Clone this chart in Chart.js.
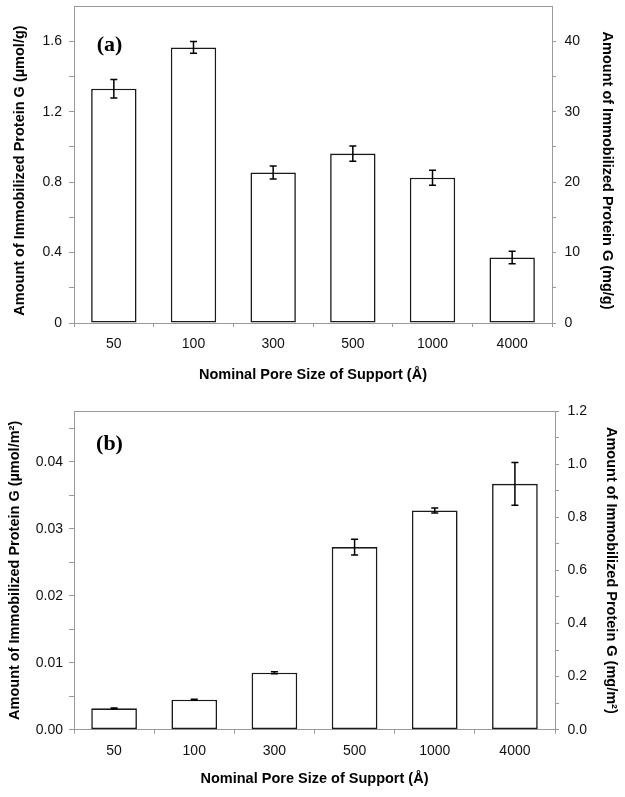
<!DOCTYPE html>
<html><head><meta charset="utf-8">
<script src="https://cdn.jsdelivr.net/npm/chart.js@4"></script>
<style>
html,body{margin:0;padding:0;background:#fff;width:625px;height:797px;overflow:hidden;}
canvas{display:block;position:absolute;left:0;}
</style>
</head><body>
<canvas id="ca" width="625" height="390" style="top:0px"></canvas>
<canvas id="cb" width="625" height="407" style="top:390px"></canvas>
<script>
// ---- data ----
const poreSizes = ['50', '100', '300', '500', '1000', '4000'];
// (a) amount of immobilized protein G, µmol/g, with error
const amountA = [1.33, 1.565, 0.855, 0.962, 0.825, 0.372];
const errorA  = [0.052, 0.034, 0.037, 0.043, 0.043, 0.035];
// (b) amount of immobilized protein G, µmol/m², with error
const amountB = [0.00319, 0.00448, 0.00851, 0.02727, 0.03275, 0.03672];
const errorB  = [0.00005, 0.00008, 0.00015, 0.00117, 0.00037, 0.00318];
// axis tick label steps
const ticksA_left  = {max: 1.8, step: 0.2, labelEvery: 2, decimals: 1, zero: '0'};
const ticksA_right = {max: 45, step: 5, labelEvery: 2, decimals: 0, zero: '0'};
const ticksB_left  = {max: 0.0476, step: 0.005, labelEvery: 2, decimals: 2, zero: '0.00'};
const ticksB_right = {max: 1.2, step: 0.1, labelEvery: 2, decimals: 1, zero: '0.0'};

const axisGrey = '#9a9a9a';
const tickFont = {family: "'Liberation Sans', Arial, sans-serif", size: 14};
const titleFont = {family: "'Liberation Sans', Arial, sans-serif", size: 14.5, weight: 'bold'};
const textColor = '#111';

const errorBarsPlugin = {
  id: 'errorBars',
  afterDatasetsDraw(chart, args, opts) {
    const meta = chart.getDatasetMeta(0);
    const yScale = chart.scales.y;
    const vals = chart.data.datasets[0].data;
    const ctx = chart.ctx;
    ctx.save();
    ctx.strokeStyle = '#000';
    ctx.lineWidth = 1.5;
    meta.data.forEach((bar, i) => {
      const e = opts.errors[i];
      const x = bar.x;
      const yt = yScale.getPixelForValue(vals[i] + e);
      const yb = yScale.getPixelForValue(vals[i] - e);
      ctx.beginPath();
      ctx.moveTo(x, yt); ctx.lineTo(x, yb);
      ctx.moveTo(x - 3.5, yt); ctx.lineTo(x + 3.5, yt);
      ctx.moveTo(x - 3.5, yb); ctx.lineTo(x + 3.5, yb);
      ctx.stroke();
    });
    ctx.restore();
  }
};

const frameTopPlugin = {
  id: 'frameTop',
  beforeDatasetsDraw(chart) {
    const {ctx, chartArea} = chart;
    ctx.save();
    ctx.strokeStyle = axisGrey;
    ctx.lineWidth = 1;
    ctx.beginPath();
    ctx.moveTo(chartArea.left, chartArea.top + 0.5);
    ctx.lineTo(chartArea.right, chartArea.top + 0.5);
    ctx.stroke();
    ctx.restore();
  }
};

const panelLabelPlugin = {
  id: 'panelLabel',
  afterDraw(chart, args, opts) {
    const {ctx, chartArea} = chart;
    ctx.save();
    ctx.font = "bold 22px 'Liberation Serif', 'Times New Roman', serif";
    ctx.fillStyle = '#000';
    ctx.textAlign = 'center';
    ctx.textBaseline = 'middle';
    ctx.fillText(opts.text, chartArea.left + opts.dx, chartArea.top + opts.dy);
    ctx.restore();
  }
};

function valueAxis(spec, position, width, tickLen, tickPad, title, titlePad) {
  return {
    position: position,
    min: 0,
    max: spec.max,
    ticks: {
      stepSize: spec.step,
      includeBounds: false,
      padding: tickPad,
      font: tickFont,
      color: textColor,
      callback: (v) => {
        const k = Math.round(v / spec.step);
        if (k % spec.labelEvery !== 0) return '';
        if (k === 0) return spec.zero;
        return (k * spec.step).toFixed(spec.decimals);
      }
    },
    grid: {display: true, drawOnChartArea: false, drawTicks: true, tickLength: tickLen, color: axisGrey, lineWidth: 1},
    border: {display: true, color: axisGrey, width: 1},
    title: {display: true, text: title, font: titleFont, color: '#000', padding: {top: titlePad, bottom: 0}},
    afterFit: (s) => { s.width = width; s.paddingTop = 0; s.paddingBottom = 0; }
  };
}

function categoryAxis(height, titlePad) {
  return {
    offset: true,
    grid: {display: true, drawOnChartArea: false, drawTicks: true, tickLength: 4, color: axisGrey, lineWidth: 1, offset: true},
    border: {display: true, color: axisGrey, width: 1},
    ticks: {font: tickFont, color: textColor, padding: 9, maxRotation: 0},
    title: {display: true, text: 'Nominal Pore Size of Support (Å)', font: titleFont, color: '#000', padding: {top: 0, bottom: titlePad}},
    afterFit: (s) => { s.height = height; s.paddingLeft = 0; s.paddingRight = 0; }
  };
}

function makeChart(id, values, errors, label, topPad, xHeight, xTitlePad,
                   leftSpec, leftWidth, leftTitle, leftTitlePad, leftTickPad,
                   rightSpec, rightWidth, rightTitle, rightTitlePad, labelDy, keepTopRight) {
  const yLeft = valueAxis(leftSpec, 'left', leftWidth, 5, leftTickPad, leftTitle, leftTitlePad);
  yLeft.afterBuildTicks = (s) => { s.ticks = s.ticks.filter(t => t.value < leftSpec.max - 1e-9); };
  const yRight = valueAxis(rightSpec, 'right', rightWidth, 4, 8.5, rightTitle, rightTitlePad);
  if (!keepTopRight) {
    yRight.afterBuildTicks = (s) => { s.ticks = s.ticks.filter(t => t.value < rightSpec.max - 1e-9); };
  }
  return new Chart(document.getElementById(id), {
    type: 'bar',
    data: {
      labels: poreSizes,
      datasets: [{
        data: values,
        yAxisID: 'y',
        backgroundColor: '#ffffff',
        borderColor: '#1a1a1a',
        borderWidth: 1.6,
        borderSkipped: false,
        barPercentage: 0.57,
        categoryPercentage: 1
      }]
    },
    options: {
      responsive: false,
      animation: false,
      devicePixelRatio: 1,
      layout: {padding: {top: topPad, left: 0, right: 0, bottom: 0}},
      plugins: {
        legend: {display: false},
        tooltip: {enabled: false},
        errorBars: {errors: errors},
        panelLabel: {text: label, dx: 35.5, dy: labelDy}
      },
      scales: {
        x: categoryAxis(xHeight, xTitlePad),
        y: yLeft,
        y2: yRight
      }
    },
    plugins: [frameTopPlugin, errorBarsPlugin, panelLabelPlugin]
  });
}

makeChart('ca', amountA, errorA, '(a)', 6, 67, 6.3,
  ticksA_left, 74, 'Amount of Immobilized Protein G (µmol/g)   ', 10.8, 7,
  ticksA_right, 73, '   Amount of Immobilized Protein G (mg/g)', 9.3, 39.5, false);

makeChart('cb', amountB, errorB, '(b)', 21, 67.3, 9.3,
  ticksB_left, 74, 'Amount of Immobilized Protein G (µmol/m²)', 5.8, 6,
  ticksB_right, 70, 'Amount of Immobilized Protein G (mg/m²)', 5.3, 33.5, true);
</script>
</body></html>
